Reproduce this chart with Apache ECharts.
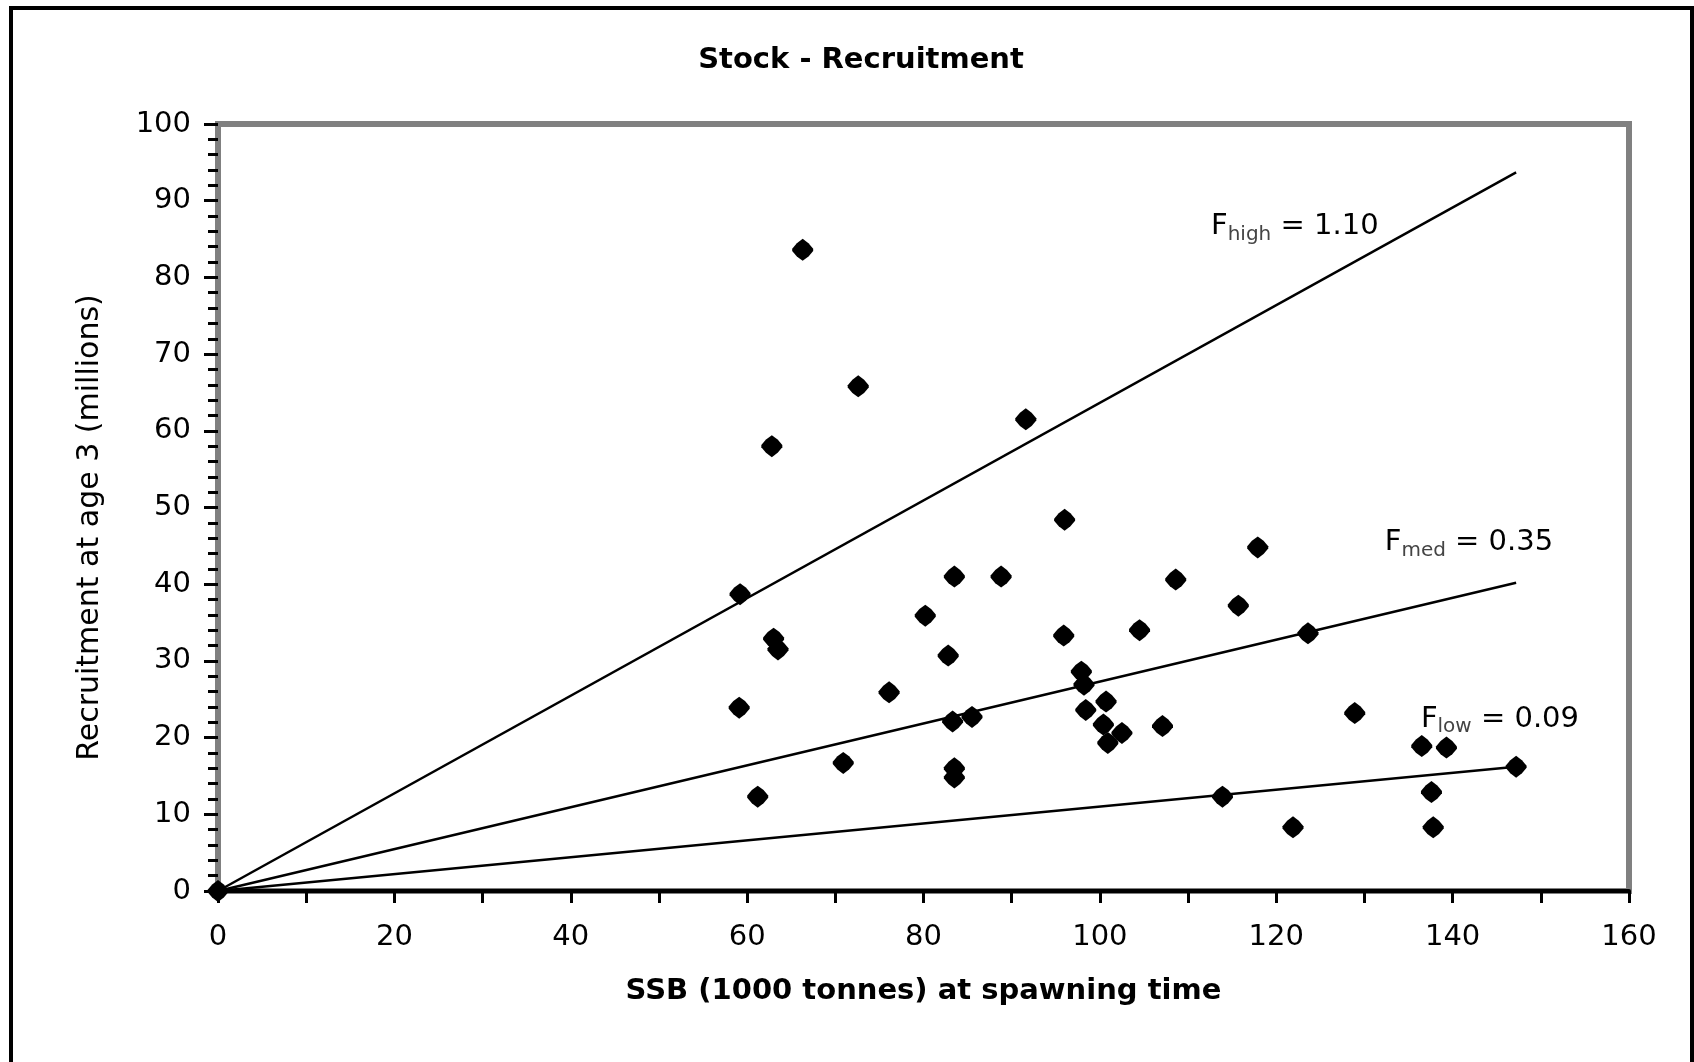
<!DOCTYPE html>
<html>
<head>
<meta charset="utf-8">
<title>Stock - Recruitment</title>
<script src="https://cdn.jsdelivr.net/npm/echarts@6.0.0/dist/echarts.min.js"></script>
<style>
    html, body { margin: 0; padding: 0; background: #fff; }
    #chart_js { width: 1694px; height: 1062px; }
</style>
</head>
<body>
<div id="chart_js"></div>
<script>
// 观测点: SSB (1000 tonnes) / 3 龄补充量 (millions)
var ssb = [0, 66.3, 72.6, 62.8, 91.6, 59.2, 63.0, 63.5, 59.1, 61.2,
    70.9, 76.1, 80.2, 82.8, 83.5, 88.8, 83.3, 85.5, 83.5, 83.5,
    95.9, 96.0, 97.9, 98.2, 98.4, 100.7, 100.4, 102.5, 100.9, 104.5,
    107.1, 108.6, 113.9, 115.7, 117.9, 121.9, 123.6, 128.9, 136.5, 139.3,
    137.6, 137.8, 147.2];
var recruits = [0, 83.6, 65.8, 58.0, 61.5, 38.7, 32.9, 31.5, 23.9, 12.3,
    16.7, 25.9, 35.9, 30.7, 41.0, 41.0, 22.1, 22.7, 16.0, 14.8,
    33.3, 48.4, 28.6, 26.9, 23.6, 24.7, 21.7, 20.6, 19.3, 34.0,
    21.5, 40.6, 12.3, 37.2, 44.8, 8.3, 33.6, 23.2, 18.9, 18.7,
    12.9, 8.3, 16.2];

// F 参考线 (过原点)
var lineSsb = [0, 147.2];
var fHigh = [0, 93.7];
var fMed = [0, 40.2];
var fLow = [0, 16.2];

// 刻度
var xTicks = [0, 20, 40, 60, 80, 100, 120, 140, 160];
var yTicks = [0, 10, 20, 30, 40, 50, 60, 70, 80, 90, 100];

(function(window) {
    'use strict';
    var font = 'DejaVu Sans';

    function pairs(xs, ys) {
        return xs.map(function(x, i) {
            return [x, ys[i]];
        });
    }

    // F 标签 (带下标)
    function fLabel(coord, sub, value) {
        return {
            silent: true,
            symbol: 'circle',
            symbolSize: 0,
            data: [{ coord: coord }],
            label: {
                show: true,
                position: 'right',
                distance: 0,
                formatter: '{f|F}{s|' + sub + '}{f| = ' + value + '}',
                rich: {
                    f: { fontFamily: font, fontSize: 29, color: '#000' },
                    s: { fontFamily: font, fontSize: 20, color: '#444', padding: [16, 0, 0, 0] }
                }
            }
        };
    }

    function refLine(name, ys, mark) {
        return {
            name: name,
            type: 'line',
            data: pairs(lineSsb, ys),
            symbol: 'none',
            silent: true,
            z: 2,
            lineStyle: { color: '#000', width: 2.5 },
            markPoint: mark
        };
    }

    var chart = echarts.init(document.getElementById('chart_js'));
    var option = {
        animation: false,
        backgroundColor: '#fff',
        title: {
            text: 'Stock - Recruitment',
            left: 856,
            top: 41,
            textAlign: 'center',
            textStyle: { fontFamily: font, fontSize: 29, fontWeight: 'bold', color: '#000' }
        },
        graphic: [{
            type: 'polyline',
            shape: { points: [[11, 1062], [11, 8], [1692, 8], [1692, 1062]] },
            style: { stroke: '#000', lineWidth: 4, fill: null },
            silent: true
        }],
        grid: {
            left: 218,
            right: 65,
            top: 124,
            bottom: 171,
            show: true,
            borderColor: '#808080',
            borderWidth: 6,
            outerBoundsMode: 'none'
        },
        xAxis: {
            type: 'value',
            min: xTicks[0],
            max: xTicks[xTicks.length - 1],
            interval: xTicks[1] - xTicks[0],
            name: 'SSB (1000 tonnes) at spawning time',
            nameLocation: 'middle',
            nameGap: 86,
            nameTextStyle: { fontFamily: font, fontSize: 29, fontWeight: 'bold', color: '#000' },
            axisLine: { show: true, onZero: false, lineStyle: { color: '#000', width: 4 } },
            axisTick: { show: true, inside: false, length: 12, lineStyle: { color: '#000', width: 3 } },
            minorTick: { show: true, splitNumber: 2, length: 12, lineStyle: { color: '#000', width: 3 } },
            axisLabel: { margin: 32, fontFamily: font, fontSize: 29, color: '#000' },
            splitLine: { show: false },
            minorSplitLine: { show: false }
        },
        yAxis: {
            type: 'value',
            min: yTicks[0],
            max: yTicks[yTicks.length - 1],
            interval: yTicks[1] - yTicks[0],
            name: 'Recruitment at age 3 (millions)',
            nameLocation: 'middle',
            nameGap: 113,
            nameTextStyle: { fontFamily: font, fontSize: 30, color: '#000', padding: [0, 40, 0, 0] },
            axisLine: { show: true, onZero: false, lineStyle: { color: '#808080', width: 6 } },
            axisTick: { show: true, inside: false, length: 14, lineStyle: { color: '#000', width: 3 } },
            minorTick: { show: true, splitNumber: 5, length: 10, lineStyle: { color: '#000', width: 3 } },
            axisLabel: { margin: 27, fontFamily: font, fontSize: 29, color: '#000' },
            splitLine: { show: false },
            minorSplitLine: { show: false }
        },
        series: [
            refLine('Fhigh', fHigh, fLabel([112.6, 86.6], 'high', '1.10')),
            refLine('Fmed', fMed, fLabel([132.3, 45.4], 'med', '0.35')),
            refLine('Flow', fLow, fLabel([136.4, 22.4], 'low', '0.09')),
            {
                name: 'Stock - Recruitment',
                type: 'scatter',
                data: pairs(ssb, recruits),
                symbol: 'path://M10,0 L15,4 L19,9 L19,11 L15,16 L10,20 L5,16 L1,11 L1,9 L5,4 Z',
                symbolSize: [21, 22],
                z: 3,
                itemStyle: { color: '#000', opacity: 1 }
            }
        ]
    };
    chart.setOption(option);
})(window);
</script>
</body>
</html>
